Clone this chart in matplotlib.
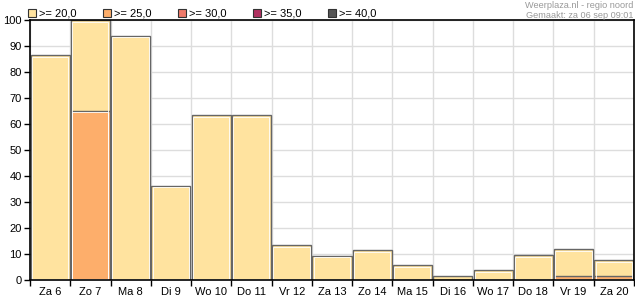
import numpy as np
import matplotlib
matplotlib.use('Agg')
import matplotlib.pyplot as plt
from matplotlib.patches import Rectangle

# categories (days) and probability (%) per temperature class
days = ['Za 6', 'Zo 7', 'Ma 8', 'Di 9', 'Wo 10', 'Do 11', 'Vr 12', 'Za 13',
        'Zo 14', 'Ma 15', 'Di 16', 'Wo 17', 'Do 18', 'Vr 19', 'Za 20']
p20 = [86.5, 100, 94, 36.3, 63.3, 63.3, 13.3, 9.4, 11.4, 5.6, 1.7, 3.7, 9.6, 11.8, 7.6]
p25 = [0, 65.1, 0, 0, 0, 0, 0, 0, 0, 0, 0, 0, 0, 1.7, 1.7]

legend_labels = ['>= 20,0', '>= 25,0', '>= 30,0', '>= 35,0', '>= 40,0']
legend_colors = ['#ffe39f', '#fdae6b', '#ef7a6a', '#b03060', '#555555']

plt.rcParams['font.family'] = ['Liberation Sans', 'DejaVu Sans']

fig = plt.figure(figsize=(6.35, 3.0), dpi=100)
ax = fig.add_axes([30/635., 20/300., 604/635., 260/300.])

x = np.arange(len(days))
w = 0.97

def draw_bars(vals, color):
  for xi, v in zip(x, vals):
    if v <= 0:
      continue
    # shadow
    ax.bar(xi + 0.02, v, width=w, bottom=-0.4, color='#555555', zorder=2)
    ax.bar(xi, v, width=w, color=color, edgecolor='#666666', linewidth=1.0, zorder=3)
    # inner white highlight (skip on very thin bars)
    if v > 3:
      ax.bar(xi - 0.005, v - 0.9, width=w - 0.07, bottom=0.3, fill=False,
             edgecolor='white', linewidth=0.6, zorder=4)

draw_bars(p20, legend_colors[0])
draw_bars(p25, legend_colors[1])

ax.set_xlim(-0.5, len(days) - 0.5)
ax.set_ylim(0, 100)
ax.set_yticks(np.arange(0, 101, 10))
ax.set_xticks(x)
ax.set_xticklabels(days)
ax.set_xticks(np.arange(-0.5, len(days), 1), minor=True)
ax.tick_params(axis='x', which='major', length=0, labelsize=8, pad=5)
ax.tick_params(axis='x', which='minor', length=4, width=1, direction='out')
ax.tick_params(axis='y', length=4, width=1, labelsize=8, pad=2)
ax.grid(True, which='minor', axis='x', color='#dddddd', linewidth=1, zorder=0)
ax.grid(True, which='major', axis='y', color='#dddddd', linewidth=1, zorder=0)
ax.set_axisbelow(True)
for s in ax.spines.values():
  s.set_linewidth(1.2)
  s.set_color('black')
  s.set_zorder(6)

# legend along the top
lx = [28, 103, 178, 253, 328]
for px, lab, col in zip(lx, legend_labels, legend_colors):
  fig.patches.append(Rectangle((px/635., (300-17)/300.), 8/635., 8/300.,
                               transform=fig.transFigure, facecolor=col,
                               edgecolor='#333333', linewidth=0.8))
  fig.text((px + 11)/635., (300-13)/300., lab, fontsize=8, va='center', ha='left')

fig.text(633/635., (300-6)/300., 'Weerplaza.nl - regio noord', fontsize=6.6,
         color='#999999', ha='right', va='center')
fig.text(633/635., (300-15)/300., 'Gemaakt: za 06 sep 09:01', fontsize=6.6,
         color='#999999', ha='right', va='center')

fig.savefig('out.png', dpi=100)
